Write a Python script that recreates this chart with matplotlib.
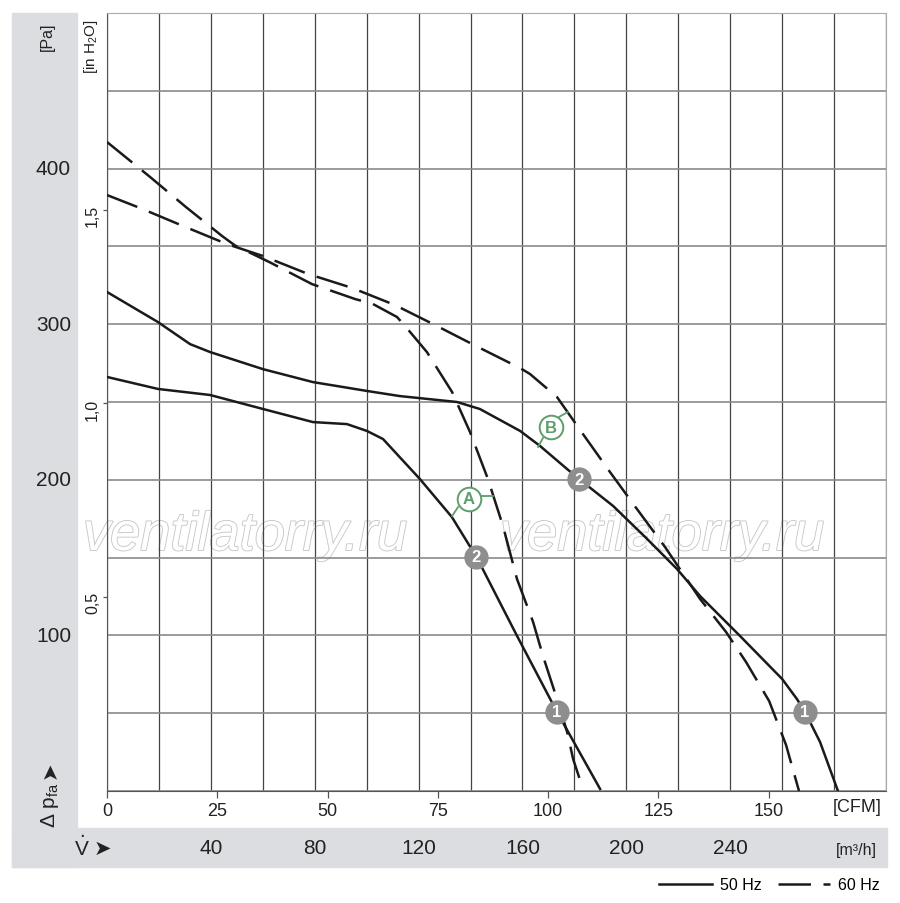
import numpy as np
import matplotlib
matplotlib.use('Agg')
import matplotlib.pyplot as plt
import matplotlib.patheffects as pe
import matplotlib.transforms as mtransforms
from matplotlib.patches import Rectangle
from matplotlib.lines import Line2D

FONT = ['Liberation Sans Narrow', 'Liberation Sans', 'DejaVu Sans']
plt.rcParams['font.family'] = FONT

# curve data: x in m3/h, y in Pa
a50_x = [0, 19.6, 39.7, 60.1, 79.3, 92.4, 100.1, 106.3, 120.5, 132.8, 142.5, 157.9, 173.3, 189.9]
a50_y = [266.1, 258.4, 254.5, 245.5, 237.1, 235.8, 231.4, 226.2, 200.5, 176.1, 149.8, 99.7, 50.8, 1.3]

b50_x = [0, 19.6, 32.0, 39.7, 60.1, 79.3, 100.1, 112.8, 134.8, 143.6, 159.1, 166.8, 177.2, 181.8,
         194.9, 208.0, 219.5, 228.4, 243.8, 260.0, 265.7, 268.8, 274.6, 281.5]
b50_y = [320.7, 301.4, 287.2, 282.1, 271.1, 262.8, 257.1, 253.8, 250.0, 245.5, 231.4, 221.7, 206.9, 200.5,
         183.2, 162.0, 142.7, 125.3, 99.6, 72.0, 59.1, 50.8, 31.5, 0]

a60_x = [0, 16.6, 30.4, 44.3, 49.3, 62.8, 78.9, 95.5, 102.4, 111.7, 114.8, 123.2, 132.9, 139.8,
         146.7, 152.5, 157.9, 164.1, 167.9, 173.3, 177.2, 179.5, 183.3]
a60_y = [417.1, 394.6, 375.3, 356.7, 350.6, 339.7, 325.8, 316.2, 313.0, 304.6, 298.8, 282.1, 256.4, 230.7,
         200.5, 170.3, 136.2, 108.6, 86.8, 59.1, 37.9, 20.6, 1.3]

b60_x = [0, 12.7, 29.3, 46.2, 60.1, 77.4, 94.4, 110.9, 127.1, 142.9, 159.1, 162.9, 173.3, 183.3,
         193.7, 204.1, 214.9, 228.4, 238.4, 246.1, 255.0, 261.5, 266.5]
b60_y = [383.0, 374.7, 363.1, 351.5, 343.8, 332.3, 323.3, 312.3, 298.8, 285.3, 271.8, 268.0, 253.2, 229.4,
         205.0, 181.2, 156.8, 123.4, 102.2, 82.9, 57.8, 29.6, 0]

# operating points (gray discs)
op_x = [142.1, 173.3, 181.8, 268.8]
op_y = [150.4, 50.8, 200.5, 50.8]
op_lbl = ['2', '1', '2', '1']

# curve labels A / B with leader lines
tag_lbl = ['A', 'B']
tag_x = [139.4, 171.0]
tag_y = [187.7, 233.9]
lead_lo_x = [[135.2, 132.9], [167.9, 166.0]]
lead_lo_y = [[182.5, 176.7], [226.9, 221.1]]
lead_hi_x = [[144.0, 148.6], [174.1, 177.5]]
lead_hi_y = [[189.6, 189.6], [240.4, 243.6]]

m3h_ticks = [40, 80, 120, 160, 200, 240]
cfm_ticks = [0, 25, 50, 75, 100, 125, 150]
pa_ticks = [100, 200, 300, 400]
inh2o_ticks = [0.5, 1.0, 1.5]
inh2o_labels = ['0,5', '1,0', '1,5']

W, H = 900, 904
ink = '#222222'
fig = plt.figure(figsize=(9, 9.04), dpi=100)

# gray bands
band = '#dcdde0'
fig.patches.append(Rectangle((12 / W, 1 - 868 / H), 65 / W, 854 / H, transform=fig.transFigure,
                             color=band, zorder=-1))
fig.patches.append(Rectangle((12 / W, 1 - 868 / H), 875 / W, 39 / H, transform=fig.transFigure,
                             color=band, zorder=-1))

ax = fig.add_axes([107 / W, 1 - 792 / H, 779 / W, 778 / H])
ax.set_xlim(0, 300)
ax.set_ylim(0, 500)
ax.set_axisbelow(True)

ax.set_xticks(np.arange(0, 301, 20))
ax.set_yticks(np.arange(0, 501, 50))
ax.tick_params(length=0, labelbottom=False, labelleft=False)
ax.grid(axis='x', color='#444444', linewidth=0.9)
ax.grid(axis='y', color='#8a8a8a', linewidth=1.2)
for s in ['left', 'bottom']:
    ax.spines[s].set_color('#555555')
for s in ['top', 'right']:
    ax.spines[s].set_color('#aaaaaa')

# Pa labels in the left band, m3/h labels in the bottom band
pa_tr = mtransforms.blended_transform_factory(fig.transFigure, ax.transData)
for v in pa_ticks:
    ax.text(71 / W, v, str(v), transform=pa_tr, ha='right', va='center', fontsize=15, color=ink)
m3_tr = mtransforms.blended_transform_factory(ax.transData, fig.transFigure)
for v in m3h_ticks:
    ax.text(v, 1 - 849 / H, str(v), transform=m3_tr, ha='center', va='center', fontsize=15,
            color=ink)

# CFM and inch H2O scales
cfm = ax.secondary_xaxis('bottom', functions=(lambda v: v / 1.699, lambda v: v * 1.699))
cfm.set_xticks(cfm_ticks)
cfm.tick_params(length=5, width=0.9, color='#555555', pad=3, labelsize=13, labelcolor=ink)
cfm.spines['bottom'].set_visible(False)

inch = ax.secondary_yaxis('left', functions=(lambda v: v / 249.09, lambda v: v * 249.09))
inch.set_yticks(inh2o_ticks)
inch.set_yticklabels(inh2o_labels)
inch.tick_params(length=3, width=0.9, color='#555555', pad=2, labelsize=11.5,
                 labelrotation=90, labelcolor=ink)
inch.spines['left'].set_visible(False)

# watermark
for cx in [245, 662]:
    ax.text(cx / W, 1 - 551 / H, 'ventilatorry.ru', transform=fig.transFigure,
            ha='center', va='baseline', fontsize=39, style='italic',
            family=['Liberation Sans', 'DejaVu Sans'], color='white', zorder=0.2,
            path_effects=[pe.Stroke(linewidth=1.3, foreground='#c8c8c8'), pe.Normal()])

lw = 1.8
dash = (13, 5)
ax.plot(a50_x, a50_y, color='#1a1a1a', lw=lw, zorder=3)
ax.plot(b50_x, b50_y, color='#1a1a1a', lw=lw, zorder=3)
ax.plot(a60_x, a60_y, color='#1a1a1a', lw=lw, zorder=3, dashes=dash, dash_capstyle='butt')
ax.plot(b60_x, b60_y, color='#1a1a1a', lw=lw, zorder=3, dashes=dash, dash_capstyle='butt')

green = '#5e9d6c'
for i in range(2):
    ax.plot(lead_lo_x[i], lead_lo_y[i], color=green, lw=1.3, zorder=4)
    ax.plot(lead_hi_x[i], lead_hi_y[i], color=green, lw=1.3, zorder=4)
    ax.plot(tag_x[i], tag_y[i], 'o', ms=17, mfc='white', mec=green, mew=1.4, zorder=5)
    ax.text(tag_x[i], tag_y[i], tag_lbl[i], color=green, fontsize=12, fontweight='bold',
            ha='center', va='center', zorder=6)

ax.plot(op_x, op_y, 'o', ms=17.5, color='#8e8e8e', mec='none', zorder=5)
for x, y, t in zip(op_x, op_y, op_lbl):
    ax.text(x, y, t, color='white', fontsize=12, fontweight='bold', ha='center',
            va='center', zorder=6)

# unit labels
fig.text(47 / W, 1 - 37 / H, '[Pa]', rotation=90, ha='center', va='center', fontsize=11.5,
         color=ink)
fig.text(91 / W, 1 - 47 / H, r'[in H$_\mathregular{2}$O]', rotation=90, ha='center',
         va='center', fontsize=11, color=ink)
fig.text(50 / W, 1 - 805 / H, r'Δ p$_\mathregular{fa}$', rotation=90, ha='center',
         va='center', fontsize=15, color=ink)
fig.text(50 / W, 1 - 770 / H, '➤', rotation=90, ha='center', va='center', fontsize=15,
         color=ink, family='DejaVu Sans')
fig.text(82 / W, 1 - 848 / H, r'$\dot{\mathregular{V}}$', ha='center', va='center',
         fontsize=15, color=ink)
fig.text(102 / W, 1 - 849 / H, '➤', ha='center', va='center', fontsize=15, color=ink,
         family='DejaVu Sans')
fig.text(857 / W, 1 - 808 / H, '[CFM]', ha='center', va='center', fontsize=13, color=ink)
fig.text(856 / W, 1 - 851 / H, '[m³/h]', ha='center', va='center', fontsize=11.5, color=ink)

handles = [Line2D([], [], color='#1a1a1a', lw=lw),
           Line2D([], [], color='#1a1a1a', lw=lw, dashes=dash, dash_capstyle='butt')]
fig.legend(handles, ['50 Hz', '60 Hz'], loc='center right', bbox_to_anchor=(880 / W, 1 - 886 / H),
           ncol=2, frameon=False, fontsize=11.5, handlelength=3.3, handletextpad=0.5,
           columnspacing=1.0, borderpad=0, borderaxespad=0)

fig.savefig('out.png', dpi=100)
